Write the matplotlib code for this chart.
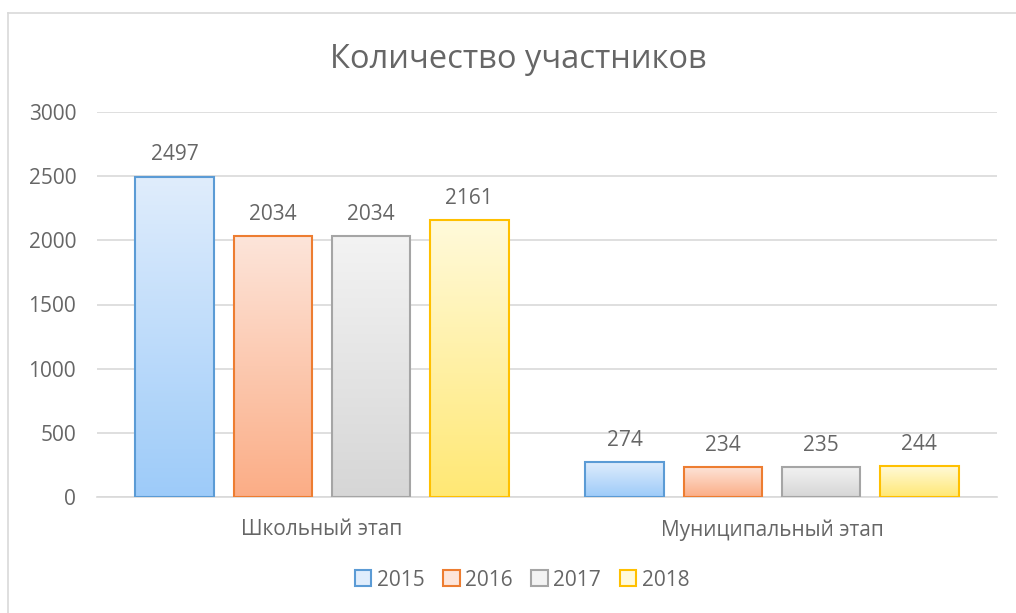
import matplotlib
matplotlib.use("Agg")
import matplotlib.pyplot as plt
import numpy as np
from matplotlib.colors import LinearSegmentedColormap
from matplotlib.patches import Patch
from matplotlib.lines import Line2D

categories = ["Школьный этап", "Муниципальный этап"]
years = ["2015", "2016", "2017", "2018"]
values = {
    "2015": [2497, 274],
    "2016": [2034, 234],
    "2017": [2034, 235],
    "2018": [2161, 244],
}
edge_colors = ["#5B9BD5", "#ED7D31", "#A5A5A5", "#FFC000"]
top_colors = ["#E0EDFC", "#FDE5DA", "#F3F3F3", "#FFFADB"]
bottom_colors = ["#9DCBF9", "#FBAD86", "#D6D6D6", "#FFE874"]
text_color = "#666666"

plt.rcParams['font.family'] = ['Open Sans', 'DejaVu Sans']

W, H = 1016, 613
fig = plt.figure(figsize=(W / 100, H / 100), dpi=100)
ax = fig.add_axes([97 / W, 1 - 497 / H, 900 / W, 385 / H])

# outer chart border (top and left visible)
fig.add_artist(Line2D([8 / W, 1.0], [1 - 13 / H, 1 - 13 / H], color="#D9D9D9", lw=1.2, transform=fig.transFigure))
fig.add_artist(Line2D([8 / W, 8 / W], [0, 1 - 13 / H], color="#D9D9D9", lw=1.2, transform=fig.transFigure))

x = np.arange(len(categories))
bw = 0.1755
step = 0.2178
offsets = (np.arange(len(years)) - 1.5) * step

grad = np.linspace(0, 1, 256).reshape(-1, 1)
for i, yr in enumerate(years):
    cmap = LinearSegmentedColormap.from_list("g%d" % i, [bottom_colors[i], top_colors[i]])
    bars = ax.bar(x + offsets[i], values[yr], bw, facecolor="none",
                  edgecolor=edge_colors[i], linewidth=1.5, zorder=3)
    for b, v in zip(bars, values[yr]):
        x0 = b.get_x()
        im = ax.imshow(grad, extent=[x0, x0 + bw, 0, v], origin="lower",
                       cmap=cmap, aspect="auto", zorder=2)
        im.set_clip_path(b)
        ax.annotate(str(v), (x0 + bw / 2, v), xytext=(0, 8), textcoords="offset points",
                    ha="center", va="bottom", fontsize=15, color=text_color)

ax.set_xlim(-0.5, 1.5)
ax.set_ylim(0, 3000)
ax.set_yticks(np.arange(0, 3001, 500))
ax.yaxis.grid(True, color="#D9D9D9", linewidth=1.2, zorder=0)
ax.set_axisbelow(True)
for s in ["top", "right", "left"]:
    ax.spines[s].set_visible(False)
ax.spines["bottom"].set_color("#D9D9D9")
ax.spines["bottom"].set_linewidth(1.2)
ax.set_xticks(x)
ax.set_xticklabels(categories, fontsize=15, color=text_color)
ax.tick_params(axis="both", length=0, labelsize=15, colors=text_color)
ax.tick_params(axis="x", pad=16)
ax.tick_params(axis="y", pad=15)

fig.text(518 / W, 1 - 60 / H, "Количество участников", ha="center", va="center",
         fontsize=23.5, color=text_color)

handles = [Patch(facecolor=(top_colors[i]), edgecolor=edge_colors[i], linewidth=1.5, label=years[i])
           for i in range(len(years))]
leg = fig.legend(handles=handles, loc="center", bbox_to_anchor=(522 / W, 1 - 580 / H),
                 ncol=4, frameon=False, fontsize=15, handlelength=0.8, handleheight=0.8,
                 handletextpad=0.25, columnspacing=0.9)
for t in leg.get_texts():
    t.set_color(text_color)

fig.savefig("out.png", dpi=100)
